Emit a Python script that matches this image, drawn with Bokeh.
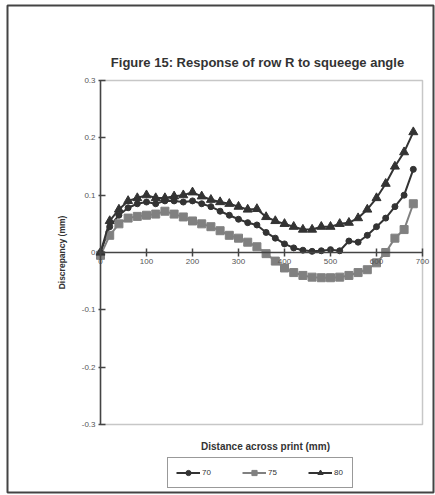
from bokeh.plotting import figure
from bokeh.models import FixedTicker, Range1d, Legend, LegendItem, Label, BoxAnnotation
from bokeh.embed import file_html
from bokeh.resources import INLINE

distance = [0, 20, 40, 60, 80, 100, 120, 140, 160, 180, 200, 220, 240, 260, 280, 300, 320,
            340, 360, 380, 400, 420, 440, 460, 480, 500, 520, 540, 560, 580, 600, 620, 640, 660, 680]

angle_70 = [0.0, 0.045, 0.065, 0.078, 0.085, 0.088, 0.085, 0.09, 0.09, 0.088, 0.09, 0.085, 0.08,
            0.072, 0.065, 0.058, 0.052, 0.048, 0.035, 0.025, 0.015, 0.008, 0.004, 0.002, 0.003,
            0.005, 0.003, 0.02, 0.018, 0.03, 0.045, 0.06, 0.08, 0.1, 0.145]

angle_75 = [-0.005, 0.03, 0.05, 0.06, 0.063, 0.065, 0.067, 0.072, 0.067, 0.062, 0.055, 0.05, 0.045,
            0.038, 0.03, 0.025, 0.018, 0.01, -0.002, -0.015, -0.027, -0.035, -0.04, -0.043, -0.044,
            -0.044, -0.043, -0.04, -0.035, -0.03, -0.018, 0.0, 0.025, 0.04, 0.085]

angle_80 = [0.0, 0.055, 0.075, 0.09, 0.095, 0.1, 0.095, 0.095, 0.098, 0.1, 0.105, 0.098, 0.092,
            0.088, 0.085, 0.08, 0.075, 0.076, 0.062, 0.055, 0.05, 0.045, 0.04, 0.04, 0.045,
            0.045, 0.05, 0.052, 0.06, 0.075, 0.095, 0.12, 0.15, 0.175, 0.21]

x_ticks = [0, 100, 200, 300, 400, 500, 600, 700]
y_ticks = [-0.3, -0.2, -0.1, 0, 0.1, 0.2, 0.3]
y_tick_labels = ["-0.3", "-0.2", "-0.1", "0", "0.1", "0.2", "0.3"]
series_names = ["70", "75", "80"]
x_min, x_max = 0, 700
y_min, y_max = -0.3, 0.3

FONT = "Liberation Sans"
DARK = "#333333"
GREY = "#808080"
AXC = "#444444"

# The frame fills the whole bordered area; the data box sits inside it.
p = figure(width=435, height=495, output_backend="svg", toolbar_location=None,
           x_range=Range1d(-202.2, 723.9), y_range=Range1d(-0.4186, 0.4308),
           min_border_left=7, min_border_right=2, min_border_top=5, min_border_bottom=3)

p.xgrid.visible = False
p.ygrid.visible = False
p.outline_line_color = "#444444"
p.outline_line_width = 2
p.background_fill_color = "white"
p.border_fill_color = "white"

# data box
p.add_layout(BoxAnnotation(left=x_min, right=x_max, bottom=y_min, top=y_max,
                           fill_alpha=0, line_color=AXC, line_width=1.5))

# x axis drawn at y = 0
xa = p.xaxis[0]
xa.fixed_location = 0
xa.bounds = (x_min, x_max)
xa.ticker = FixedTicker(ticks=x_ticks)
xa.axis_line_color = AXC
xa.axis_line_width = 1.5
xa.major_tick_line_color = AXC
xa.major_tick_line_width = 1.5
xa.major_tick_in = 4
xa.major_tick_out = 4
xa.minor_tick_line_color = None
xa.major_label_text_font = FONT
xa.major_label_text_font_size = "8px"
xa.major_label_text_color = "#555555"
xa.major_label_standoff = 3

# y axis drawn at x = 0
ya = p.yaxis[0]
ya.fixed_location = 0
ya.bounds = (y_min, y_max)
ya.ticker = FixedTicker(ticks=y_ticks)
ya.major_label_overrides = {t: l for t, l in zip(y_ticks, y_tick_labels)}
ya.axis_line_color = AXC
ya.axis_line_width = 1.5
ya.major_tick_line_color = AXC
ya.major_tick_line_width = 1.5
ya.major_tick_in = 5
ya.major_tick_out = 2
ya.minor_tick_line_color = None
ya.major_label_text_font = FONT
ya.major_label_text_font_size = "8px"
ya.major_label_text_color = "#555555"
ya.major_label_standoff = 3
ya.axis_label = "Discrepancy (mm)"
ya.axis_label_text_font = FONT
ya.axis_label_text_font_size = "8.5px"
ya.axis_label_text_font_style = "bold"
ya.axis_label_text_color = DARK
ya.axis_label_standoff = 12

l70 = p.line(distance, angle_70, line_color=DARK, line_width=2)
m70 = p.scatter(distance, angle_70, marker="circle", size=6, color=DARK)
l75 = p.line(distance, angle_75, line_color=GREY, line_width=2)
m75 = p.scatter(distance, angle_75, marker="square", size=8, color=GREY)
l80 = p.line(distance, angle_80, line_color=DARK, line_width=2)
m80 = p.scatter(distance, angle_80, marker="triangle", size=9, color=DARK)

legend = Legend(items=[LegendItem(label=series_names[0], renderers=[l70, m70]),
                       LegendItem(label=series_names[1], renderers=[l75, m75]),
                       LegendItem(label=series_names[2], renderers=[l80, m80])],
                orientation="horizontal", location=(160, 4),
                label_text_font=FONT, label_text_font_size="8px", label_text_color=DARK,
                label_text_baseline="bottom",
                border_line_color="#333333", border_line_width=1.5,
                spacing=30, glyph_width=24, glyph_height=13, label_standoff=2,
                label_width=10, label_height=10, padding=8, margin=0)
p.add_layout(legend)

p.add_layout(Label(x=341.3, y=0.3314, text="Figure 15: Response of row R to squeege angle",
                   text_align="center", text_baseline="middle", text_font=FONT,
                   text_font_size="13px", text_font_style="bold", text_color=DARK))

p.add_layout(Label(x=358.7, y=-0.3384, text="Distance across print (mm)",
                   text_align="center", text_baseline="middle", text_font=FONT,
                   text_font_size="10px", text_font_style="bold", text_color=DARK))

open("out.html", "w").write(file_html(p, INLINE))
